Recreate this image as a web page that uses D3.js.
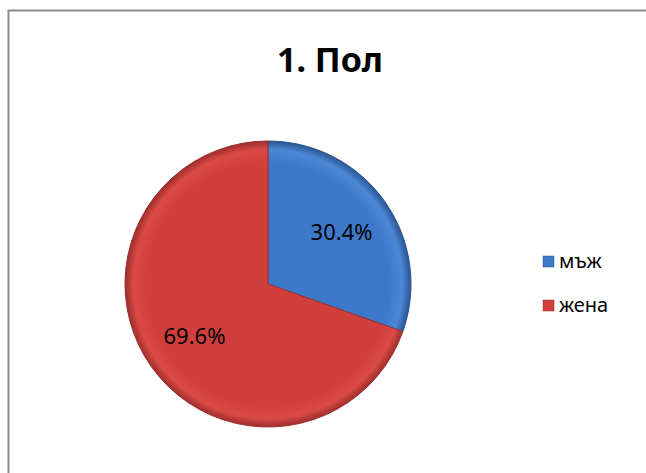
<!DOCTYPE html>
<html>
<head>
<meta charset="utf-8">
<script src="https://cdn.jsdelivr.net/npm/d3@7"></script>
<style>
body{margin:0;background:#fff;}
text{font-family:"Noto Sans","Open Sans",sans-serif;}
</style>
</head>
<body>
<div id="chart"></div>
<script>
var width = 646, height = 473;
// data
var categories = ["мъж", "жена"];
var values = [30.4, 69.6];
var labels = ["30.4%", "69.6%"];
var title = "1. Пол";

var cx = 268, cy = 284, radius = 143;

var svg = d3.select("#chart").append("svg")
    .attr("width", width)
    .attr("height", height);

//frame
svg.append("rect")
    .attr("x", 8.5).attr("y", 10.5)
    .attr("width", width).attr("height", height)
    .style("fill", "none").style("stroke", "#8c8c8c").style("stroke-width", 2);

//gradients for bevel look
var color = d3.scaleOrdinal().domain(categories).range(["#3d79c8", "#d13f3d"]);
var light = d3.scaleOrdinal().domain(categories).range(["#4c88d6", "#dc4a47"]);
var dark = d3.scaleOrdinal().domain(categories).range(["#2a5592", "#9c2e2c"]);
var defs = svg.append("defs");
categories.forEach(function(c, i){
    // gradient is in the coords of the translated group, so centre is 0,0
    var g = defs.append("radialGradient")
        .attr("id", "grad" + i)
        .attr("gradientUnits", "userSpaceOnUse")
        .attr("cx", 0).attr("cy", 0).attr("r", radius);
    g.append("stop").attr("offset", "0%").attr("stop-color", color(c));
    g.append("stop").attr("offset", "85%").attr("stop-color", color(c));
    g.append("stop").attr("offset", "94%").attr("stop-color", light(c));
    g.append("stop").attr("offset", "100%").attr("stop-color", dark(c));
});

svg.append("text")
    .attr("x", 330).attr("y", 72)
    .attr("text-anchor", "middle")
    .style("font-size", "34px").style("font-weight", "bold")
    .text(title);

var pie = d3.pie().sort(null).value(function(d){ return d; });
var arc = d3.arc().innerRadius(0).outerRadius(radius);
var arcs = pie(values);

var g = svg.append("g").attr("transform", "translate(" + cx + "," + cy + ")");
g.selectAll(".slice").data(arcs).enter()
    .append("path")
    .attr("class", "slice")
    .attr("d", arc)
    .style("fill", function(d, i){ return "url(#grad" + i + ")"; })
    .style("stroke", function(d, i){ return dark(categories[i]); })
    .style("stroke-width", 1);

var labelArc = d3.arc().innerRadius(radius * 0.63).outerRadius(radius * 0.63);
g.selectAll(".lbl").data(arcs).enter()
    .append("text")
    .attr("class", "lbl")
    .attr("transform", function(d){ var p = labelArc.centroid(d); return "translate(" + p[0] + "," + p[1] + ")"; })
    .attr("dy", "0.35em")
    .attr("text-anchor", "middle")
    .style("font-size", "22px")
    .text(function(d, i){ return labels[i]; });

//legend
var legend = svg.selectAll(".legend").data(categories).enter()
    .append("g")
    .attr("class", "legend")
    .attr("transform", function(d, i){ return "translate(543," + (256 + i * 44) + ")"; });
legend.append("rect")
    .attr("width", 11).attr("height", 11)
    .style("fill", function(d){ return color(d); })
    .style("stroke", function(d){ return dark(d); })
    .style("stroke-width", 0.5);
legend.append("text")
    .attr("x", 16).attr("y", 5)
    .attr("dy", "0.35em")
    .style("font-size", "20px")
    .text(function(d){ return d; });
</script>
</body>
</html>
